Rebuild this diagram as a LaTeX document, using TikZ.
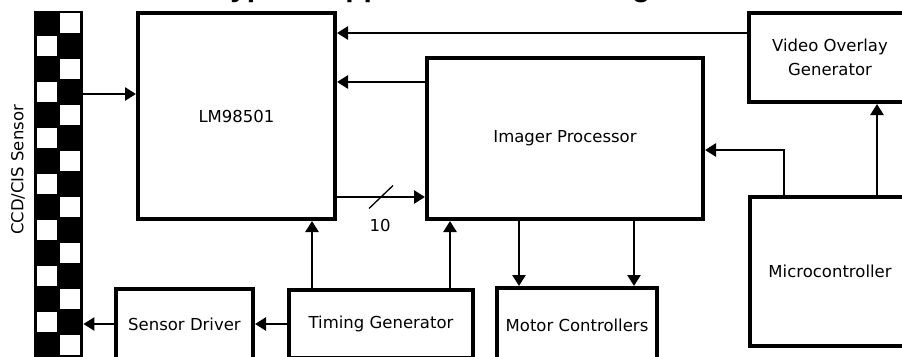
\documentclass[tikz,border=0pt]{standalone}
\usepackage{fontspec}
\setmainfont{DejaVu Sans}
\newfontfamily\titlefont{Liberation Sans}
\usetikzlibrary{arrows.meta}

\begin{document}
\begin{tikzpicture}[x=1pt,y=-1pt,
            every node/.style={font=\fontsize{16.5}{24}\selectfont},
            block/.style={draw,line width=4pt,inner sep=0pt,align=center},
            link/.style={line width=2.5pt,-{Triangle[length=11pt,width=13pt]}}]
    \useasboundingbox (0,0) rectangle (902,356);
    \node[font=\titlefont\bfseries\fontsize{30}{36}\selectfont,inner sep=0pt,anchor=south west] (title) at (214,3.5) {Typical Application Block Diagram};
    \node[fill=black,inner sep=0pt,minimum width=49pt,minimum height=360pt,anchor=north west] (sensor) at (34,11) {};
    \foreach \k in {0,...,7} {
        \fill[white] (60,13+46*\k) rectangle +(20,20);
        \fill[white] (37,36+46*\k) rectangle +(20,20);
    }
    \node[rotate=90] (senslabel) at (18,170) {CCD/CIS Sensor};
    \node[block,minimum width=197pt,minimum height=206pt] (lm) at (236.5,116) {LM98501};
    \node[block,minimum width=276pt,minimum height=161pt] (imgp) at (565,138.5) {Imager Processor};
    \node[block,minimum width=162pt,minimum height=89pt] (vog) at (830,57.5) {Video Overlay\\Generator};
    \node[block,minimum width=160pt,minimum height=149pt] (mcu) at (830,271.5) {Microcontroller};
    \node[block,minimum width=137pt,minimum height=70pt] (sdrv) at (184.5,324) {Sensor Driver};
    \node[block,minimum width=184pt,minimum height=68pt] (tgen) at (381,324) {Timing Generator};
    \node[block,minimum width=160pt,minimum height=74pt] (motor) at (577,325) {Motor Controllers};
    \draw[link] (sensor.east |- 0,94) -- (lm.west |- 0,94);
    \draw[link] (vog.west |- 0,33) -- (lm.east |- 0,33);
    \draw[link] (imgp.west |- 0,82) -- (lm.east |- 0,82);
    \draw[link] (lm.east |- 0,197) -- (imgp.west |- 0,197) coordinate[pos=.5] (bus);
    \draw[line width=1.3pt] ([shift={(-12,11.5)}]bus) -- ([shift={(12,-11.5)}]bus);
    \node (buswidth) at (380,225) {10};
    \draw[link] (tgen.north -| 312,0) -- (lm.south -| 312,0);
    \draw[link] (tgen.north -| 450,0) -- (imgp.south -| 450,0);
    \draw[link] (tgen.west) -- (sdrv.east);
    \draw[link] (sdrv.west) -- (sensor.east |- sdrv.west);
    \draw[link] (imgp.south -| 519,0) -- (motor.north -| 519,0);
    \draw[link] (imgp.south -| 634,0) -- (motor.north -| 634,0);
    \draw[link] (mcu.north -| 784,0) |- (imgp.east |- 0,150);
    \draw[link] (mcu.north -| 877,0) -- (vog.south -| 877,0);
\end{tikzpicture}
\end{document}
